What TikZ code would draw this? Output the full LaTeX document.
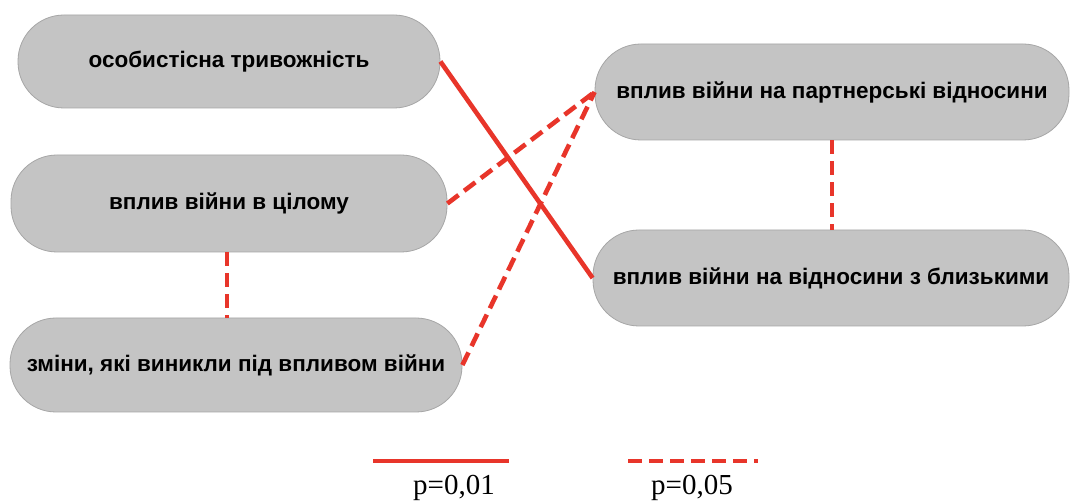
\documentclass[tikz,border=0pt]{standalone}
\usepackage{fontspec}
\setmainfont{Liberation Serif}
\newfontfamily\boxfont{Liberation Sans}
\definecolor{boxfill}{HTML}{C4C4C4}
\definecolor{boxline}{HTML}{A6A6A6}
\definecolor{linkred}{HTML}{E8352A}
\tikzset{
  pill/.style={draw=boxline, line width=0.8pt, fill=boxfill, rounded corners=46pt,
    inner sep=0pt, font=\boxfont\bfseries\fontsize{22.5}{26}\selectfont, text=black},
  strong/.style={draw=linkred, line width=4.6pt},
  weak/.style={draw=linkred, line width=4.6pt, dash pattern=on 14pt off 7pt},
  legendtext/.style={font=\fontsize{29}{32}\selectfont, inner sep=0pt}
}
\begin{document}
\begin{tikzpicture}[x=1pt,y=-1pt]
\useasboundingbox (0,0) rectangle (1071,502);
\fill[white] (0,0) rectangle (1071,502);
\node[pill, minimum width=422pt, minimum height=93pt] (n1) at (229,61.5) {особистісна тривожність};
\node[pill, minimum width=436pt, minimum height=97pt] (n2) at (229,203.5) {вплив війни в цілому};
\node[pill, minimum width=452pt, minimum height=94pt] (n3) at (236,365) {зміни, які виникли під впливом війни};
\node[pill, minimum width=474pt, minimum height=96pt] (n4) at (832,92) {вплив війни на партнерські відносини};
\node[pill, minimum width=476pt, minimum height=96pt] (n5) at (831,278) {вплив війни на відносини з близькими};
\draw[strong] (n1.east) -- (n5.west);
\draw[weak] (n2.east) -- (n4.west);
\draw[weak] (n3.east) -- (n4.west);
\draw[weak] (n2.south -| 227,0) -- (n3.north -| 227,0);
\draw[weak] (n4.south) -- (n4.south |- n5.north);
\coordinate (s1) at (373,461);
\coordinate (s2) at (509,461);
\coordinate (d1) at (628,461);
\coordinate (d2) at (758,461);
\draw[strong] (s1) -- (s2);
\draw[weak] (d1) -- (d2);
\node[legendtext] (l1) at (454,488) {p=0,01};
\node[legendtext] (l2) at (692,488) {p=0,05};
\end{tikzpicture}
\end{document}
